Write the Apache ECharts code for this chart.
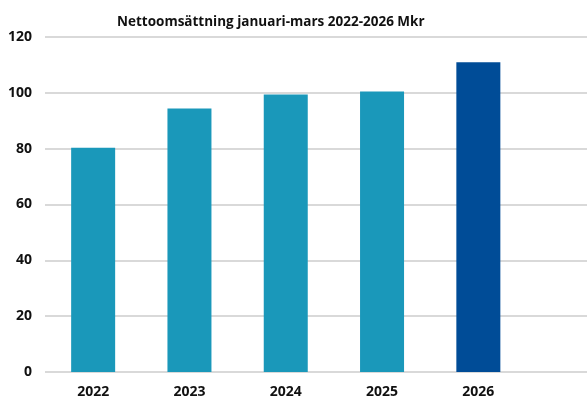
<!DOCTYPE html>
<html>
<head>
<meta charset="utf-8">
<script src="https://cdn.jsdelivr.net/npm/echarts@6/dist/echarts.min.js"></script>
<style>
  html, body { margin: 0; padding: 0; background: #fff; }
  #chart { width: 587px; height: 401px; }
</style>
</head>
<body>
<div id="chart"></div>
<script>
// data
var years = ["2022", "2023", "2024", "2025", "2026"];
var sales = [80.3, 94.4, 99.4, 100.5, 111.0];
var barColors = ["#1a98ba", "#1a98ba", "#1a98ba", "#1a98ba", "#004c97"];
var yTicks = { min: 0, max: 120, interval: 20 };

var font = "'Open Sans', 'DejaVu Sans', sans-serif";
var chart = echarts.init(document.getElementById("chart"));

var option = {
  animation: false,
  title: {
    text: "Nettoomsättning januari-mars 2022-2026 Mkr",
    left: 112,
    top: 10,
    textStyle: { fontFamily: font, fontSize: 13.5, fontWeight: "bold", color: "#111" },
  },
  grid: [
    // plot area for the bars
    { left: 45, top: 37, width: 481.5, bottom: 29 },
    // gridlines run on to the right edge
    { left: 45, top: 37, right: 0, bottom: 29 },
  ],
  xAxis: [
    {
      type: "category",
      gridIndex: 0,
      data: years,
      axisLine: { show: false },
      axisTick: { show: false },
      axisLabel: {
        margin: 13,
        fontFamily: font,
        fontSize: 14,
        fontWeight: "bold",
        color: "#111",
      },
    },
    { type: "category", gridIndex: 1, data: years, show: false },
  ],
  yAxis: [
    {
      type: "value",
      gridIndex: 0,
      min: yTicks.min,
      max: yTicks.max,
      interval: yTicks.interval,
      splitLine: { show: false },
      axisLabel: {
        margin: 13,
        fontFamily: font,
        fontSize: 14,
        fontWeight: "bold",
        color: "#111",
      },
    },
    {
      type: "value",
      gridIndex: 1,
      min: yTicks.min,
      max: yTicks.max,
      interval: yTicks.interval,
      axisLabel: { show: false },
      axisLine: { show: false },
      axisTick: { show: false },
      splitLine: { lineStyle: { color: "#d9d9d9", width: 2 } },
    },
  ],
  series: [
    {
      type: "bar",
      xAxisIndex: 0,
      yAxisIndex: 0,
      barWidth: 44,
      z: 3,
      data: sales.map(function (v, i) {
        return { value: v, itemStyle: { color: barColors[i] } };
      }),
    },
  ],
};
chart.setOption(option);
</script>
</body>
</html>
